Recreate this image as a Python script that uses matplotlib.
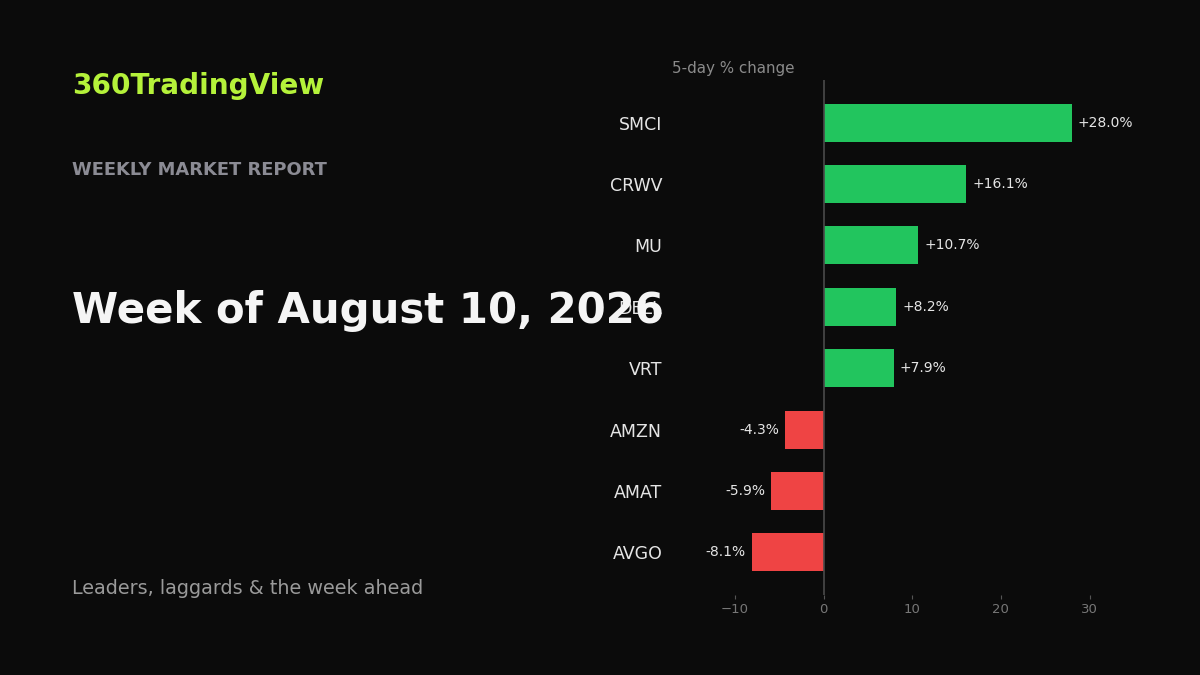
import matplotlib
matplotlib.use("Agg")
import matplotlib.pyplot as plt

tickers = ["SMCI", "CRWV", "MU", "DELL", "VRT", "AMZN", "AMAT", "AVGO"]
changes = [28.0, 16.1, 10.7, 8.2, 7.9, -4.3, -5.9, -8.1]

BG = "#0b0b0b"
GREEN = "#22c55e"
RED = "#ef4444"

plt.rcParams['font.family'] = 'DejaVu Sans'
fig = plt.figure(figsize=(12, 6.75), dpi=100, facecolor=BG)
ax = fig.add_axes([0.56, 0.119, 0.396, 0.762])
ax.set_facecolor(BG)

ypos = list(range(len(tickers)))
colors = [GREEN if v >= 0 else RED for v in changes]
ax.barh(ypos, changes, height=0.62, color=colors)
ax.set_yticks(ypos)
ax.set_yticklabels(tickers)
ax.invert_yaxis()
ax.set_xlim(-17.1, 36.5)
ax.axvline(0, color="#4a4a4a", lw=1.2)

for y, v in zip(ypos, changes):
    if v >= 0:
        ax.annotate(f"+{v:.1f}%", (v, y), xytext=(4.3, 0), textcoords="offset points",
                    ha="left", va="center", color="#e5e5e5", fontsize=10)
    else:
        ax.annotate(f"{v:.1f}%", (v, y), xytext=(-4.3, 0), textcoords="offset points",
                    ha="right", va="center", color="#e5e5e5", fontsize=10)

for s in ax.spines.values():
    s.set_visible(False)
ax.tick_params(axis='y', length=0, pad=7, labelsize=12.5, labelcolor="#e5e5e5")
ax.tick_params(axis='x', colors="#555555", labelcolor="#777777", labelsize=9.5, length=3, pad=3)
ax.set_xticks([-10, 0, 10, 20, 30])
ax.set_title("5-day % change", loc="left", color="#8a8a8a", fontsize=10.9, pad=5)

fig.text(0.06, 0.872, "360TradingView", color="#b5f23a", fontsize=20.1, fontweight="bold", va="center")
fig.text(0.06, 0.748, "WEEKLY MARKET REPORT", color="#8b8b94", fontsize=12.9, fontweight="bold", va="center")
fig.text(0.06, 0.54, "Week of August 10, 2026", color="#f5f5f5", fontsize=30.2, fontweight="bold", va="center")
fig.text(0.06, 0.128, "Leaders, laggards & the week ahead", color="#9a9a9a", fontsize=13.8, va="center")

fig.savefig("out.png", facecolor=BG)
